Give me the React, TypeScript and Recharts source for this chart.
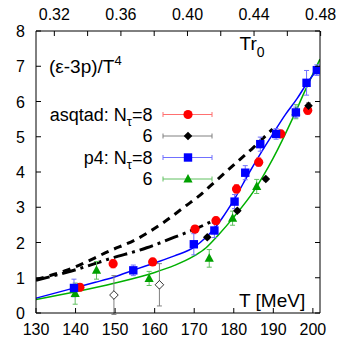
import React from 'react';
import { ComposedChart, Line, Scatter, XAxis, YAxis, ErrorBar } from 'recharts';

const FONT = '"Liberation Sans", Arial, Helvetica, sans-serif';
const R0_OVER_HBARC = 0.469 / 197.327;
const T_MIN = 130;
const T_MAX = 201.8;

const tTicks = [130, 140, 150, 160, 170, 180, 190, 200];
const trTicks = [0.32, 0.34, 0.36, 0.38, 0.4, 0.42, 0.44, 0.46, 0.48];
const trLabels = ['0.32', '0.36', '0.40', '0.44', '0.48'];
const yTicks = [0, 1, 2, 3, 4, 5, 6, 7, 8];

// asqtad N_tau = 8 (red circles)
const asqtad8T = [141.1, 149.5, 159.5, 170.2, 175.5, 180.7, 186.3, 191.9, 198.7];
const asqtad8V = [0.73, 1.4, 1.45, 2.38, 2.62, 3.52, 4.28, 5.08, 5.75];
const asqtad8E = [0.1, 0.12, 0.1, 0.1, 0.1, 0.12, 0.12, 0.1, 0.12];

// asqtad N_tau = 6 (black diamonds, filled)
const asqtad6T = [173.3, 180.9, 188.1, 198.9];
const asqtad6V = [2.15, 2.9, 3.8, 5.88];
const asqtad6E = [0.05, 0.05, 0.05, 0.08];
// asqtad N_tau = 6 (open diamonds, low T)
const asqtad6lowT = [149.7, 161.2];
const asqtad6lowV = [0.51, 0.8];
const asqtad6lowE = [0.55, 0.6];

// p4 N_tau = 8 (blue squares)
const p48T = [139.6, 154.6, 169.9, 175.1, 180.2, 182.9, 186.7, 190.7, 195.7, 198.4, 201.0];
const p48V = [0.71, 1.21, 1.95, 2.34, 3.16, 3.98, 4.79, 5.08, 5.69, 6.53, 6.89];
const p48E = [0.25, 0.15, 0.3, 0.2, 0.2, 0.2, 0.2, 0.15, 0.15, 0.35, 0.15];

// p4 N_tau = 6 (green triangles)
const p46T = [139.9, 145.3, 158.6, 173.8, 179.7, 185.8, 195.7];
const p46V = [0.55, 1.21, 0.98, 1.55, 2.69, 3.59, 5.71];
const p46E = [0.3, 0.25, 0.2, 0.25, 0.2, 0.2, 0.2];

// fit curves
const fit8T = [130, 140, 145, 150, 155, 160, 165, 170, 173, 175, 177, 180, 184, 188, 190, 193, 196, 198.4, 201.8];
const fit8V = [0.42, 0.72, 0.87, 1.03, 1.23, 1.42, 1.62, 1.87, 2.15, 2.38, 2.68, 3.2, 4.0, 4.75, 5.1, 5.62, 6.08, 6.5, 7.0];
const fit6T = [130, 140, 150, 160, 165, 170, 173, 176, 180, 185, 190, 195, 198, 201.8];
const fit6V = [0.38, 0.6, 0.85, 1.15, 1.35, 1.62, 1.85, 2.2, 2.72, 3.45, 4.4, 5.55, 6.3, 7.2];

// hadron resonance gas curves
const hrgAT = [130, 138, 149, 155, 162, 168, 171, 175, 180, 185, 189.8];
const hrgAV = [0.95, 1.22, 1.78, 2.07, 2.55, 3.05, 3.3, 3.7, 4.2, 4.7, 5.22];
const hrgBT = [130, 138, 149, 158, 165, 170, 175.5];
const hrgBV = [0.93, 1.16, 1.55, 1.85, 2.15, 2.37, 2.66];

const pts = (t: number[], v: number[], e?: number[]) =>
  t.map((T, i) => ({ T, v: v[i], err: e ? e[i] : 0 }));

// invisible anchor so the top/right frame axes get laid out
const frameAnchor = [
  { tr: T_MIN * R0_OVER_HBARC, v: 0 },
  { tr: T_MAX * R0_OVER_HBARC, v: 8 },
];

const BottomTick = (p: any) => (
  <g>
    <line x1={p.x} x2={p.x} y1={p.y} y2={p.y - 5} stroke="#000" />
    <text x={p.x} y={p.y + 22} textAnchor="middle" fontSize={16} fontFamily={FONT} fill="#000">
      {p.payload.value}
    </text>
  </g>
);

const TopTick = (p: any) => {
  const label = Number(p.payload.value).toFixed(2);
  return (
    <g>
      <line x1={p.x} x2={p.x} y1={p.y} y2={p.y + 5} stroke="#000" />
      {trLabels.includes(label) ? (
        <text x={p.x} y={p.y - 11} textAnchor="middle" fontSize={16} fontFamily={FONT} fill="#000">
          {label}
        </text>
      ) : null}
    </g>
  );
};

const LeftTick = (p: any) => (
  <g>
    <line x1={p.x} x2={p.x + 5} y1={p.y} y2={p.y} stroke="#000" />
    <text x={p.x - 11} y={p.y + 6} textAnchor="end" fontSize={16} fontFamily={FONT} fill="#000">
      {p.payload.value}
    </text>
  </g>
);

const RightTick = (p: any) => (
  <g>
    <line x1={p.x} x2={p.x - 5} y1={p.y} y2={p.y} stroke="#000" />
  </g>
);

const RED = '#ff0000';
const BLUE = '#0000ff';
const GREEN = '#00a000';
const RED_L = '#ff7070';
const BLUE_L = '#7070ff';
const GREEN_L = '#60c060';
const GRAY = '#808080';

const circleShape = (p: any) => <circle cx={p.cx} cy={p.cy} r={4.6} fill={RED} />;
const squareShape = (p: any) => <rect x={p.cx - 4.2} y={p.cy - 4.2} width={8.4} height={8.4} fill={BLUE} />;
const triShape = (p: any) => (
  <polygon points={`${p.cx},${p.cy - 5} ${p.cx - 4.6},${p.cy + 3.5} ${p.cx + 4.6},${p.cy + 3.5}`} fill={GREEN} />
);
const diamondShape = (p: any) => (
  <polygon points={`${p.cx},${p.cy - 4.3} ${p.cx + 4.3},${p.cy} ${p.cx},${p.cy + 4.3} ${p.cx - 4.3},${p.cy}`} fill="#000" />
);
const openDiamondShape = (p: any) => (
  <polygon
    points={`${p.cx},${p.cy - 4.3} ${p.cx + 4.3},${p.cy} ${p.cx},${p.cy + 4.3} ${p.cx - 4.3},${p.cy}`}
    fill="#fff"
    stroke="#000"
    strokeWidth={0.8}
  />
);

const legendRows = [
  { label: 'asqtad', color: RED_L, shape: 'circle', y: 114.5 },
  { label: '6', color: GRAY, shape: 'diamond', y: 136 },
  { label: 'p4', color: BLUE_L, shape: 'square', y: 157.5 },
  { label: '6', color: GREEN_L, shape: 'tri', y: 179 },
];

const LegendMarker = ({ shape, cx, cy }: any) => {
  if (shape === 'circle') return circleShape({ cx, cy });
  if (shape === 'diamond') return diamondShape({ cx, cy });
  if (shape === 'square') return squareShape({ cx, cy });
  return triShape({ cx, cy });
};

export default function App() {
  return (
    <div style={{ position: 'absolute', left: 0, top: 0, width: 347, height: 347, background: '#fff' }}>
      <ComposedChart width={347} height={347} margin={{ top: 0, right: 0, bottom: 0, left: 0 }}>
        <XAxis
          xAxisId="b"
          dataKey="T"
          type="number"
          domain={[T_MIN, T_MAX]}
          allowDataOverflow
          ticks={tTicks}
          interval={0}
          height={34}
          tickSize={0}
          tickMargin={0}
          tickLine={false}
          axisLine={{ stroke: '#000' }}
          tick={BottomTick}
        />
        <XAxis
          xAxisId="t"
          dataKey="tr"
          orientation="top"
          type="number"
          domain={[T_MIN * R0_OVER_HBARC, T_MAX * R0_OVER_HBARC]}
          allowDataOverflow
          ticks={trTicks}
          interval={0}
          height={31}
          tickSize={0}
          tickMargin={0}
          tickLine={false}
          axisLine={{ stroke: '#000' }}
          tick={TopTick}
        />
        <YAxis
          yAxisId="l"
          dataKey="v"
          type="number"
          domain={[0, 8]}
          allowDataOverflow
          ticks={yTicks}
          interval={0}
          width={36}
          tickSize={0}
          tickMargin={0}
          tickLine={false}
          axisLine={{ stroke: '#000' }}
          tick={LeftTick}
        />
        <YAxis
          yAxisId="r"
          dataKey="v"
          orientation="right"
          type="number"
          domain={[0, 8]}
          allowDataOverflow
          ticks={yTicks}
          interval={0}
          width={27}
          tickSize={0}
          tickMargin={0}
          tickLine={false}
          axisLine={{ stroke: '#000' }}
          tick={RightTick}
        />

        <Line xAxisId="t" yAxisId="r" data={frameAnchor} dataKey="v" stroke="none" strokeWidth={0}
          dot={false} activeDot={false} isAnimationActive={false} />

        <Line xAxisId="b" yAxisId="l" data={pts(hrgAT, hrgAV)} dataKey="v" type="monotone" stroke="#000"
          strokeWidth={3} strokeDasharray="8 6" dot={false} activeDot={false} isAnimationActive={false} />
        <Line xAxisId="b" yAxisId="l" data={pts(hrgBT, hrgBV)} dataKey="v" type="monotone" stroke="#000"
          strokeWidth={3} strokeDasharray="14 5 3 5" dot={false} activeDot={false} isAnimationActive={false} />
        <Line xAxisId="b" yAxisId="l" data={pts(fit6T, fit6V)} dataKey="v" type="monotone" stroke="#00b000"
          strokeWidth={1.5} dot={false} activeDot={false} isAnimationActive={false} />
        <Line xAxisId="b" yAxisId="l" data={pts(fit8T, fit8V)} dataKey="v" type="monotone" stroke={BLUE}
          strokeWidth={1.5} dot={false} activeDot={false} isAnimationActive={false} />

        <Scatter xAxisId="b" yAxisId="l" data={pts(asqtad6lowT, asqtad6lowV, asqtad6lowE)} dataKey="v"
          shape={openDiamondShape} isAnimationActive={false}>
          <ErrorBar dataKey="err" direction="y" width={2.5} stroke={GRAY} strokeWidth={1} />
        </Scatter>
        <Scatter xAxisId="b" yAxisId="l" data={pts(p46T, p46V, p46E)} dataKey="v" shape={triShape} isAnimationActive={false}>
          <ErrorBar dataKey="err" direction="y" width={2.5} stroke={GREEN_L} strokeWidth={1} />
        </Scatter>
        <Scatter xAxisId="b" yAxisId="l" data={pts(asqtad8T, asqtad8V, asqtad8E)} dataKey="v" shape={circleShape} isAnimationActive={false}>
          <ErrorBar dataKey="err" direction="y" width={2.5} stroke={RED_L} strokeWidth={1} />
        </Scatter>
        <Scatter xAxisId="b" yAxisId="l" data={pts(asqtad6T, asqtad6V, asqtad6E)} dataKey="v" shape={diamondShape} isAnimationActive={false}>
          <ErrorBar dataKey="err" direction="y" width={2.5} stroke={GRAY} strokeWidth={1} />
        </Scatter>
        <Scatter xAxisId="b" yAxisId="l" data={pts(p48T, p48V, p48E)} dataKey="v" shape={squareShape} isAnimationActive={false}>
          <ErrorBar dataKey="err" direction="y" width={2.5} stroke={BLUE_L} strokeWidth={1} />
        </Scatter>
      </ComposedChart>

      <svg width={347} height={347} style={{ position: 'absolute', left: 0, top: 0, pointerEvents: 'none' }}>
        <text x={49} y={73} fontSize={19} fontFamily={FONT} fill="#000">
          (ε-3p)/T<tspan fontSize={13} dy={-8}>4</tspan>
        </text>
        <text x={239.5} y={49.5} fontSize={19} fontFamily={FONT} fill="#000">
          Tr<tspan fontSize={14} dy={7}>0</tspan>
        </text>
        <text x={239} y={307} fontSize={19} fontFamily={FONT} fill="#000">
          T [MeV]
        </text>
        {legendRows.map((r, i) => (
          <g key={i}>
            <line x1={163} x2={212} y1={r.y} y2={r.y} stroke={r.color} strokeWidth={1} />
            <line x1={163} x2={163} y1={r.y - 2.5} y2={r.y + 2.5} stroke={r.color} strokeWidth={1} />
            <line x1={212} x2={212} y1={r.y - 2.5} y2={r.y + 2.5} stroke={r.color} strokeWidth={1} />
            <LegendMarker shape={r.shape} cx={188} cy={r.y} />
            {r.label === '6' ? (
              <text x={152.5} y={r.y + 6} textAnchor="end" fontSize={18} fontFamily={FONT} fill="#000">6</text>
            ) : (
              <text x={152.5} y={r.y + 6} textAnchor="end" fontSize={18} fontFamily={FONT} fill="#000">
                {r.label}: N<tspan fontSize={13} dy={5}>τ</tspan><tspan dy={-5}>=8</tspan>
              </text>
            )}
          </g>
        ))}
      </svg>
    </div>
  );
}
